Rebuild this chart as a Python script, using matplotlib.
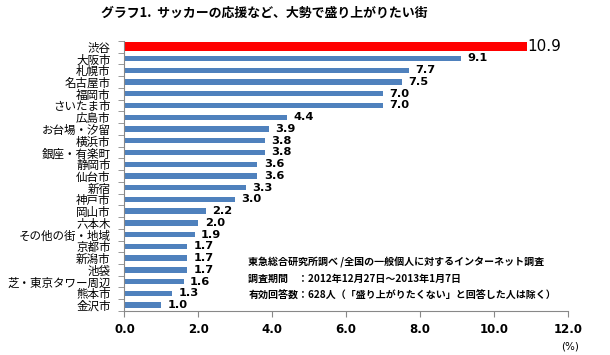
import numpy as np
import matplotlib
matplotlib.use("Agg")
from matplotlib import pyplot as plt

plt.rcParams['font.family'] = ['Noto Sans CJK JP', 'DejaVu Sans']

categories = ["渋谷", "大阪市", "札幌市", "名古屋市", "福岡市", "さいたま市", "広島市",
              "お台場・汐留", "横浜市", "銀座・有楽町", "静岡市", "仙台市", "新宿", "神戸市",
              "岡山市", "六本木", "その他の街・地域", "京都市", "新潟市", "池袋",
              "芝・東京タワー周辺", "熊本市", "金沢市"]
values = [10.9, 9.1, 7.7, 7.5, 7.0, 7.0, 4.4, 3.9, 3.8, 3.8, 3.6, 3.6, 3.3, 3.0,
          2.2, 2.0, 1.9, 1.7, 1.7, 1.7, 1.6, 1.3, 1.0]
xticks = [0, 2, 4, 6, 8, 10, 12]

title = "グラフ1.  サッカーの応援など、大勢で盛り上がりたい街"
notes = ["東急総合研究所調べ /全国の一般個人に対するインターネット調査",
         "調査期間　：2012年12月27日～2013年1月7日",
         "有効回答数：628人（「盛り上がりたくない」と回答した人は除く）"]


def showPlot():
    fig = plt.figure(figsize=(6.1, 3.55), dpi=100)
    ax = fig.add_axes([0.204, 0.124, 0.727, 0.761])

    n = len(categories)
    y = np.arange(n)
    # highlighted first bar is drawn thicker, like the original
    ax.barh(y[1:], values[1:], height=0.45, color="#4F81BD")
    ax.barh(y[0], values[0], height=0.74, color="#FF0000")
    ax.set_ylim(n - 0.5, -0.5)
    ax.set_xlim(0, 12)

    for i, v in enumerate(values):
        if i == 0:
            ax.text(v, i, f"{v:.1f}", va="center", ha="left", fontsize=11,
                    family="DejaVu Sans")
        else:
            ax.text(v + 0.17, i, f"{v:.1f}", va="center", ha="left", fontsize=8.2,
                    fontweight="semibold", family="DejaVu Sans")

    ax.set_yticks(y)
    ax.set_yticklabels(categories, fontsize=8.3)
    ax.set_yticks(np.arange(-0.5, n, 1), minor=True)
    ax.tick_params(axis="y", which="major", length=0, pad=10)
    ax.tick_params(axis="y", which="minor", length=4, color="#888888")

    ax.set_xticks(xticks)
    ax.set_xticklabels([f"{t:.1f}" for t in xticks], fontsize=8.5,
                       fontweight="bold", family="DejaVu Sans")
    ax.tick_params(axis="x", length=4, color="#888888", direction="out", pad=5)

    for s in ["top", "right"]:
        ax.spines[s].set_visible(False)
    ax.spines["left"].set_color("#888888")
    ax.spines["bottom"].set_color("#888888")

    fig.text(0.434, 0.964, title, ha="center", va="center", fontsize=9.3,
             fontweight="bold")
    for k, line in enumerate(notes):
        fig.text(0.407, 0.262 - k * 0.048, line, ha="left", va="center", fontsize=7.2,
                 fontweight="bold")
    fig.text(0.935, 0.025, "(%)", ha="center", va="center", fontsize=7.5,
             family="DejaVu Sans")

    fig.savefig("out.png", dpi=100)


def main():
    showPlot()


if __name__ == '__main__':
    main()
